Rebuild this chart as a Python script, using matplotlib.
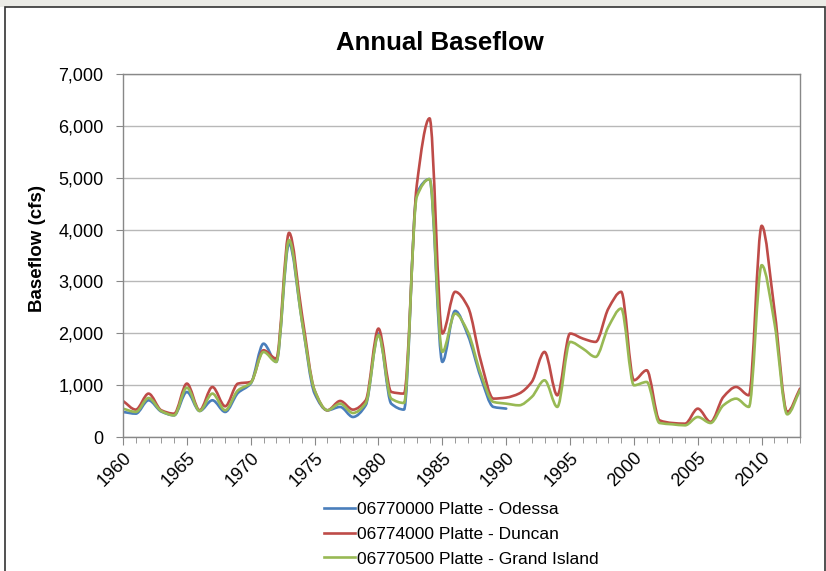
import numpy as np
import matplotlib.pyplot as plt
from matplotlib.path import Path
from matplotlib.patches import PathPatch, Rectangle
from matplotlib.lines import Line2D

plt.rcParams['font.family'] = ['Liberation Sans', 'DejaVu Sans']

# --- data ---
years = list(range(1960, 2014))

odessa_years = list(range(1960, 1991))
odessa = [483, 450, 708, 490, 418, 869, 502, 708, 483, 850,
          1030, 1800, 1448, 3732, 2252, 837, 515, 580, 386, 611,
          1995, 643, 528, 4698, 4974, 1448, 2432, 1963, 1158, 580,
          547]

duncan = [695, 528, 837, 515, 450, 1030, 515, 965, 592, 1030,
          1062, 1673, 1512, 3938, 2380, 900, 515, 695, 528, 708,
          2091, 869, 837, 4858, 6145, 1995, 2800, 2510, 1480, 740,
          760, 837, 1062, 1641, 804, 1995, 1898, 1834, 2477, 2800,
          1094, 1287, 322, 270, 257, 547, 290, 772, 965, 804,
          4073, 2450, 483, 933]

grand_island = [547, 483, 753, 500, 418, 952, 502, 837, 515, 900,
                1042, 1640, 1448, 3797, 2252, 900, 515, 643, 463, 650,
                1963, 740, 656, 4633, 4974, 1641, 2381, 2027, 1223, 676,
                643, 611, 772, 1094, 580, 1834, 1705, 1545, 2124, 2477,
                997, 1062, 270, 245, 225, 386, 270, 611, 740, 580,
                3314, 2200, 437, 900]

series = [
    ("06770000 Platte - Odessa", odessa_years, odessa, "#4a7ebb"),
    ("06774000 Platte - Duncan", years, duncan, "#be4b48"),
    ("06770500 Platte - Grand Island", years, grand_island, "#98b954"),
]


def smooth_path(xs, ys):
    # smoothed line drawn as cubic beziers through every point,
    # tangents limited so peaks and dips do not overshoot
    x = np.asarray(xs, float)
    y = np.asarray(ys, float)
    h = np.diff(x)
    d = np.diff(y) / h
    m = np.zeros_like(y)
    for i in range(1, len(y) - 1):
        if d[i - 1] * d[i] > 0:
            m[i] = 2 / (1 / d[i - 1] + 1 / d[i])
    m[0], m[-1] = d[0], d[-1]
    verts = [(x[0], y[0])]
    codes = [Path.MOVETO]
    for i in range(len(x) - 1):
        verts += [(x[i] + h[i] / 3, y[i] + m[i] * h[i] / 3),
                  (x[i + 1] - h[i] / 3, y[i + 1] - m[i + 1] * h[i] / 3),
                  (x[i + 1], y[i + 1])]
        codes += [Path.CURVE4] * 3
    return Path(verts, codes)


fig = plt.figure(figsize=(8.26, 5.71), dpi=100)

# outer chart frame and screenshot strip
fig.patches.append(Rectangle((0, 1 - 7 / 571), 1, 7 / 571, transform=fig.transFigure,
                             facecolor='#ebebe6', edgecolor='none'))
fig.patches.append(Rectangle((5 / 826, -0.05), 820 / 826, 1.05 - 7.5 / 571,
                             transform=fig.transFigure, facecolor='none',
                             edgecolor='#333333', linewidth=1.2))

ax = fig.add_axes([123 / 826, 1 - 437 / 571, 677 / 826, 363 / 571])

for label, xs, ys, color in series:
    ax.add_patch(PathPatch(smooth_path(xs, ys), facecolor='none', edgecolor=color,
                           linewidth=1.9, capstyle='round', joinstyle='round'))

ax.set_xlim(1960, 2013)
ax.set_ylim(0, 7000)
ax.set_yticks(range(0, 7001, 1000))
ax.set_yticklabels([f"{v:,}" for v in range(0, 7001, 1000)])
ax.set_xticks(range(1960, 2011, 5))
ax.set_xticklabels([str(y) for y in range(1960, 2011, 5)], rotation=45,
                   ha='right', rotation_mode='anchor')
ax.set_xticks(years, minor=True)
ax.grid(axis='y', color='#b8b8b8', linewidth=1)
ax.set_axisbelow(True)

for side in ['top', 'right', 'left', 'bottom']:
    ax.spines[side].set_color('#888888')
    ax.spines[side].set_linewidth(1)
ax.tick_params(axis='y', length=5, color='#888888', labelsize=13, pad=9)
ax.tick_params(axis='x', which='major', length=6, color='#888888', labelsize=13, pad=3)
ax.tick_params(axis='x', which='minor', length=4, color='#888888')

ax.set_ylabel('Baseflow (cfs)', fontsize=13.5, fontweight='bold')
ax.yaxis.set_label_coords(-0.113, 0.52)
fig.text(440 / 826, 1 - 43 / 571, 'Annual Baseflow', fontsize=18.5,
         fontweight='bold', ha='center', va='center')

handles = [Line2D([], [], color=c, linewidth=1.9) for _, _, _, c in series]
labels = [s[0] for s in series]
fig.legend(handles, labels, loc='upper left', bbox_to_anchor=(324 / 826, 1 - 502 / 571),
           frameon=False, fontsize=12.5, handlelength=1.8, handletextpad=0.1,
           labelspacing=0.55, borderpad=0, borderaxespad=0)

plt.savefig('out.png', dpi=100)
